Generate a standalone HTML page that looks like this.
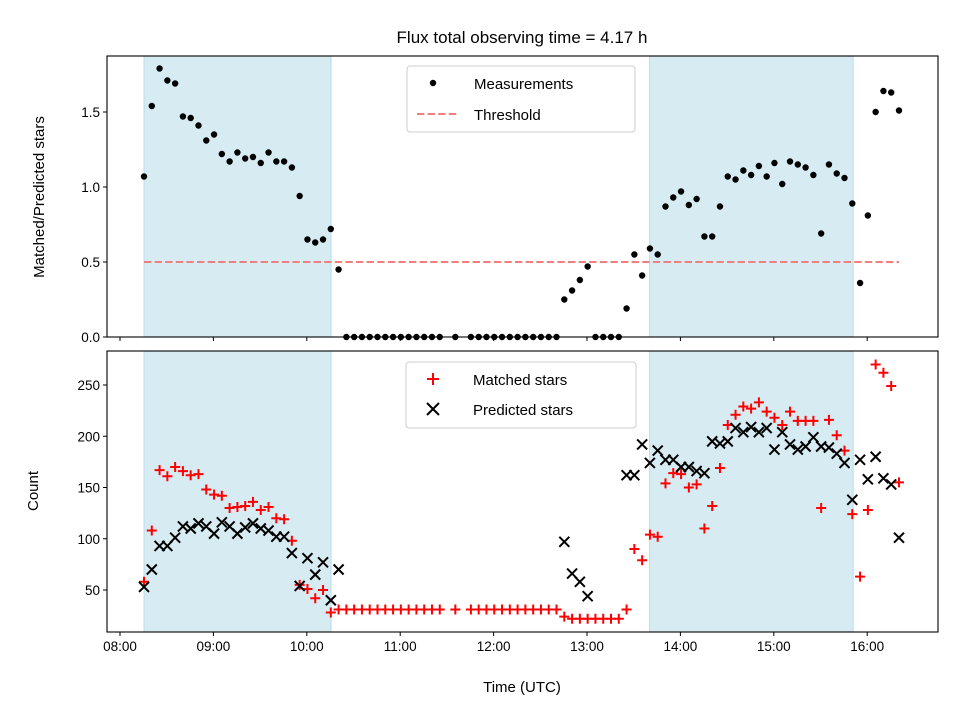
<!DOCTYPE html>
<html><head><meta charset="utf-8"><style>
body{margin:0;background:#fff}
svg{font-family:"Liberation Sans","DejaVu Sans",sans-serif}
</style></head><body>
<svg id="c" width="960" height="720" viewBox="0 0 960 720">
<rect width="960" height="720" fill="#fff"/>
<text x="522" y="43" font-size="17" text-anchor="middle">Flux total observing time = 4.17 h</text>
<text transform="translate(44,197) rotate(-90)" font-size="15" text-anchor="middle">Matched/Predicted stars</text>
<text transform="translate(38,491) rotate(-90)" font-size="15" text-anchor="middle">Count</text>
<text x="522" y="692" font-size="15" text-anchor="middle">Time (UTC)</text>
<g id="g"></g>
</svg>
<script>
const xTickLabels=["08:00","09:00","10:00","11:00","12:00","13:00","14:00","15:00","16:00"];
const topTicks=[0,0.5,1.0,1.5];
const botTicks=[50,100,150,200,250];
const shadeSpans=[[8.257,10.26],[13.67,15.85]];
const startHour=8.257;
const threshold=0.5;
const ratio=[1.07,1.54,1.79,1.71,1.69,1.47,1.46,1.41,1.31,1.35,1.22,1.17,1.23,1.19,1.20,1.16,1.23,1.17,1.17,1.13,0.94,0.65,0.63,0.65,0.72,0.45,0,0,0,0,0,0,0,0,0,0,0,0,0,null,0,null,0,0,0,0,0,0,0,0,0,0,0,0,0.25,0.31,0.38,0.47,0,0,0,0,0.19,0.55,0.41,0.59,0.55,0.87,0.93,0.97,0.88,0.92,0.67,0.67,0.87,1.07,1.05,1.11,1.08,1.14,1.07,1.16,1.02,1.17,1.15,1.13,1.08,0.69,1.15,1.09,1.06,0.89,0.36,0.81,1.50,1.64,1.63,1.51];
const matched=[58,108,167,161,170,166,162,163,148,143,142,130,131,132,136,128,131,120,119,98,55,51,42,50,28,31,31,31,31,31,31,31,31,31,31,31,31,31,31,null,31,null,31,31,31,31,31,31,31,31,31,31,31,31,24,22,22,22,22,22,22,22,31,90,79,104,102,154,164,163,150,153,110,132,169,211,221,229,227,233,224,218,211,224,215,215,215,130,216,201,186,124,63,128,270,262,249,155];
const predicted=[53,70,93,93,101,112,110,115,112,105,116,112,105,111,115,110,108,102,102,86,54,81,65,77,40,70,null,null,null,null,null,null,null,null,null,null,null,null,null,null,null,null,null,null,null,null,null,null,null,null,null,null,null,null,97,66,58,44,null,null,null,null,162,162,192,174,186,177,177,170,170,166,164,195,193,195,208,204,209,204,208,187,204,192,187,190,199,190,189,183,174,138,177,158,180,159,153,101];

const NS="http://www.w3.org/2000/svg",g=document.getElementById('g');
function el(t,a,p){const e=document.createElementNS(NS,t);for(const k in a)e.setAttribute(k,a[k]);(p||g).appendChild(e);return e;}
const X=h=>120+(h-8)*93.4;
const tX=k=>X(startHour+k/12);
const Yt=v=>337-v*150;
const Yb=c=>590-(c-50)*1.025;
const L=107,R=938,T1=56,B1=337,T2=351,B2=632;

// shading
for(const s of shadeSpans){for(const [t,b] of [[T1,B1],[T2,B2]]){
 const r=el('rect',{x:X(s[0]),y:t,width:X(s[1])-X(s[0]),height:b-t,fill:'#add8e6','fill-opacity':0.5,stroke:'#add8e6','stroke-opacity':0.8});
 
 
}}
// threshold
const th=el('line',{x1:tX(0),x2:tX(ratio.length-1),y1:Yt(threshold),y2:Yt(threshold),stroke:'#f08080','stroke-width':2,'stroke-dasharray':'7.4,3.2'});


// ratio points
ratio.forEach((v,k)=>{if(v===null)return;
 const c=el('circle',{cx:tX(k),cy:Yt(v),r:3.2,fill:'#000'});
 
 
});
// matched +
matched.forEach((v,k)=>{if(v===null)return;const x=tX(k),y=Yb(v);
 const p=el('path',{d:`M${x-5},${y}H${x+5}M${x},${y-5}V${y+5}`,stroke:'#ff0000','stroke-width':2});
 
 
});
predicted.forEach((v,k)=>{if(v===null)return;const x=tX(k),y=Yb(v);
 const p=el('path',{d:`M${x-5},${y-5}L${x+5},${y+5}M${x-5},${y+5}L${x+5},${y-5}`,stroke:'#000','stroke-width':2});
 
 
});
// frames
for(const [t,b,n] of [[T1,B1,'top-plot-frame'],[T2,B2,'bottom-plot-frame']]){
 const f=el('rect',{x:L,y:t,width:R-L,height:b-t,fill:'none',stroke:'#000','stroke-width':1.1});
 
 
}
// x ticks
xTickLabels.forEach((s,i)=>{const x=X(8+i);
 el('line',{x1:x,x2:x,y1:B1,y2:B1+4,stroke:'#000'});
 el('line',{x1:x,x2:x,y1:B2,y2:B2+4,stroke:'#000'});
 const t=el('text',{x:x,y:B2+19,'font-size':13.5,'text-anchor':'middle'});t.textContent=s;
 
 
});
topTicks.forEach(v=>{const y=Yt(v);
 el('line',{x1:L-4,x2:L,y1:y,y2:y,stroke:'#000'});
 const t=el('text',{x:L-7,y:y+5,'font-size':13.5,'text-anchor':'end'});t.textContent=v.toFixed(1);
 
 
});
botTicks.forEach(v=>{const y=Yb(v);
 el('line',{x1:L-4,x2:L,y1:y,y2:y,stroke:'#000'});
 const t=el('text',{x:L-7,y:y+5,'font-size':13.5,'text-anchor':'end'});t.textContent=v;
 
 
});
// legends
function legend(x,y,w,h,name){const r=el('rect',{x:x,y:y,width:w,height:h,rx:3,fill:'#fff','fill-opacity':0.8,stroke:'#ccc'});
 
 }
legend(407,66,228,66,'top-legend');
el('circle',{cx:433,cy:83,r:3.2,fill:'#000'});
let t=el('text',{x:474,y:89,'font-size':15});t.textContent='Measurements';


el('line',{x1:417,x2:457,y1:114,y2:114,stroke:'#f08080','stroke-width':2,'stroke-dasharray':'7.4,3.2'});
t=el('text',{x:474,y:120,'font-size':15});t.textContent='Threshold';


legend(406,362,230,66,'bottom-legend');
el('path',{d:'M427,379H439M433,373V385',stroke:'#ff0000','stroke-width':2});
t=el('text',{x:473,y:385,'font-size':15});t.textContent='Matched stars';


el('path',{d:'M427,403L439,415M427,415L439,403',stroke:'#000','stroke-width':2});
t=el('text',{x:473,y:415,'font-size':15});t.textContent='Predicted stars';


</script>
</body></html>
